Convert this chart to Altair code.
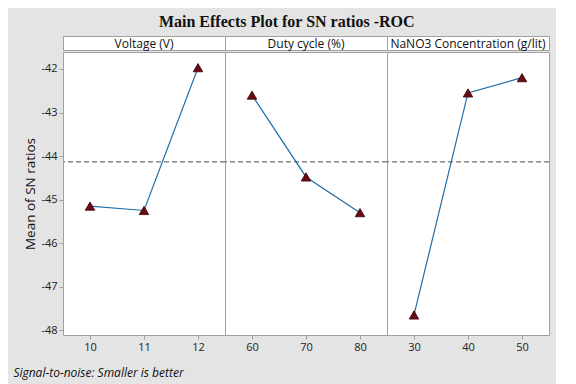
import altair as alt
import pandas as pd
import numpy as np

factors = ["Voltage (V)", "Duty cycle (%)", "NaNO3 Concentration (g/lit)"]
levels = [[10, 11, 12], [60, 70, 80], [30, 40, 50]]
sn_means = [[-45.15, -45.25, -41.97], [-42.60, -44.48, -45.30], [-47.65, -42.55, -42.20]]
y_ticks = [-48, -47, -46, -45, -44, -43, -42]
title_text = "Main Effects Plot for SN ratios -ROC"
y_title = "Mean of SN ratios"
footnote = "Signal-to-noise: Smaller is better"

grand_mean = float(np.mean(np.array(sn_means)))

PW, PH, HH = 162, 283, 14
FONT = "Open Sans"
GRAY = "#a0a0a0"
ydom = [-48.11, -41.61]

headers = []
panels = []
for i, (f, lv, vals) in enumerate(zip(factors, levels, sn_means)):
    step = lv[1] - lv[0]
    df = pd.DataFrame({"x": lv, "y": vals, "m": [grand_mean] * len(lv)})
    xsc = alt.Scale(domain=[lv[0] - step / 2, lv[-1] + step / 2], nice=False, zero=False)
    ysc = alt.Scale(domain=ydom, nice=False, zero=False)
    xax = alt.Axis(values=lv, title=None, domain=False, tickColor=GRAY, tickSize=4,
                   labelFont=FONT, labelFontSize=11, labelColor="#222", labelPadding=2, grid=False)
    if i == 0:
        yax = alt.Axis(values=y_ticks, title=y_title, domain=False, tickColor=GRAY, tickSize=4,
                       labelFont=FONT, labelFontSize=11, labelColor="#222", grid=False,
                       labelExpr="'' + datum.value",
                       titleFont=FONT, titleFontSize=13.5, titleFontWeight="normal", titleColor="#111",
                       titlePadding=3, labelPadding=2)
    else:
        yax = None
    base = alt.Chart(df)
    rule = base.mark_rule(color="#909090", strokeDash=[5, 3], strokeWidth=1.2).encode(
        y=alt.Y("m:Q", scale=ysc, axis=yax))
    line = base.mark_line(color="#1f6fa8", strokeWidth=1.2).encode(
        x=alt.X("x:Q", scale=xsc, axis=xax), y=alt.Y("y:Q", scale=ysc, axis=yax))
    pts = base.mark_point(shape="triangle-up", filled=True, size=90, color="#6b0a14",
                          stroke="#3a0008", strokeWidth=0.8, opacity=1).encode(
        x=alt.X("x:Q", scale=xsc, axis=xax), y=alt.Y("y:Q", scale=ysc, axis=yax))
    panels.append(alt.layer(rule, line, pts).properties(width=PW, height=PH))
    hdf = pd.DataFrame({"t": [f]})
    headers.append(alt.Chart(hdf).mark_text(font=FONT, fontSize=12, color="#111").encode(
        text="t:N", x=alt.value(PW / 2), y=alt.value(HH / 2 + 1)).properties(width=PW, height=HH))

header_row = alt.hconcat(*headers, spacing=0, bounds="flush")
plot_row = alt.hconcat(*panels, spacing=0, bounds="flush")

inner = alt.vconcat(header_row, plot_row, spacing=0).properties(
    title=alt.TitleParams(title_text, font="Liberation Serif", fontSize=16, fontWeight="bold",
                          color="#111", anchor="middle", offset=6))

chart = alt.vconcat(inner, spacing=0).properties(
    title=alt.TitleParams(footnote, orient="bottom", anchor="start", font=FONT, fontSize=12,
                          fontStyle="italic", fontWeight="normal", color="#111", offset=15, dx=-10),
    padding={"left": 5, "top": 5, "right": 5, "bottom": 5},
    background="#e4e4e4",
).configure_view(stroke=GRAY, fill="white")

chart.save("out.html", embed_options={"renderer": "svg", "actions": False})
